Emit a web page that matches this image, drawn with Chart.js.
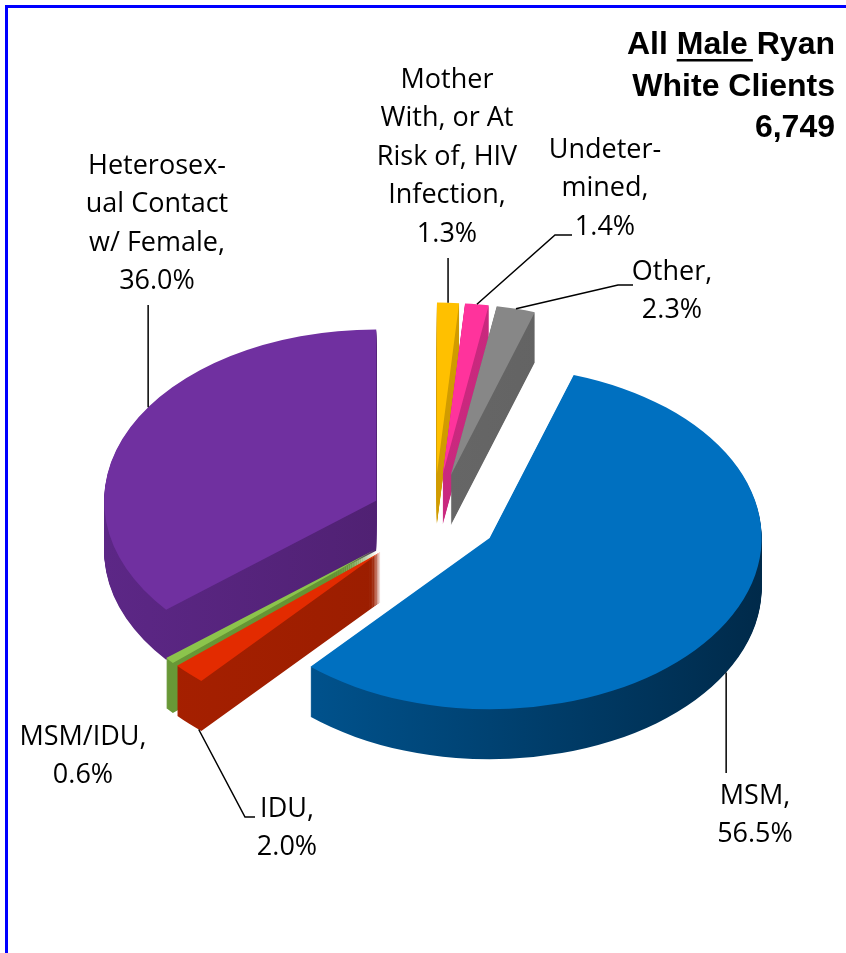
<!DOCTYPE html>
<html>
<head>
<meta charset="utf-8">
<script src="https://cdn.jsdelivr.net/npm/chart.js@4.4.1/dist/chart.umd.min.js"></script>
<style>
  html, body { margin: 0; padding: 0; background: #fff; }
  #wrap { position: relative; width: 846px; height: 953px; overflow: hidden; }
  #frame { position: absolute; left: 5px; top: 5px; width: 900px; height: 1000px;
           border-left: 3px solid #0000ff; border-top: 3px solid #0000ff; }
  canvas { position: absolute; left: 0; top: 0; }
</style>
</head>
<body>
<div id="wrap">
  <div id="frame"></div>
  <canvas id="pie" width="846" height="953"></canvas>
</div>
<script>
// data, in Excel order (clockwise from the top)
const categories = ["MSM", "IDU", "MSM/IDU", "Heterosexual Contact w/ Female",
  "Mother With, or At Risk of, HIV Infection", "Undetermined", "Other"];
const shares = [56.5, 2.0, 0.6, 36.0, 1.3, 1.4, 2.3];
const labelNames = [["MSM,"], ["IDU,"], ["MSM/IDU,"], ["Heterosex-", "ual Contact", "w/ Female,"],
  ["Mother", "With, or At", "Risk of, HIV", "Infection,"], ["Undeter-", "mined,"], ["Other,"]];
const totalClients = 6749;

// look
const topColors = ["#0070c0", "#e32b00", "#8cc44c", "#7030a0", "#ffc000", "#ff339c", "#878787"];
const wallLight = ["#005a9a", "#a82000", "#6a9a38", "#5c2786", "#d9a300", "#d42b85", "#6e6e6e"];
const wallDark  = ["#002a4a", "#8e1b00", "#5a8a2c", "#441b60", "#c99400", "#c02678", "#5e5e5e"];
const explode = [64, 76, 76, 64, 70, 70, 70];
const SQUASH = 0.63;
const DEPTH = 50;

// label layout: centre x, centre y of first line
const labelPos = [[755, 796], [287, 809], [83, 737], [157, 166], [447, 80], [605, 150], [672, 272]];
const LINE_H = 38.5;
// leaders: frac along the slice, drop = share of wall depth, then either a vertical start y or an elbow
const leaders = [
  { frac: 0.5, drop: 1, vertical: 773 },
  { frac: 0.1, drop: 1, path: [[255, 817], [245, 817]] },
  null,
  { frac: 0.56, drop: 0, vertical: 305 },
  { frac: 0.5, drop: 0, vertical: 258 },
  { frac: 0.5, drop: 0, path: [[572, 235], [555, 235]] },
  { frac: 0.5, drop: 0, path: [[633, 285], [618, 285]] }
];

function midAngle(arc) {
  return (arc.startAngle + arc.endAngle) / 2;
}

function shift(arc, i) {
  const m = midAngle(arc);
  return [Math.cos(m) * explode[i], Math.sin(m) * explode[i]];
}

// point on the rim of an exploded slice, in page pixels
function rimPoint(arc, i, frac) {
  const [dx, dy] = shift(arc, i);
  const a = arc.startAngle + (arc.endAngle - arc.startAngle) * frac;
  const x = arc.x + dx + Math.cos(a) * arc.outerRadius;
  const y = arc.y + (dy + Math.sin(a) * arc.outerRadius) * SQUASH;
  return [x, y];
}

const pie3d = {
  id: "pie3d",
  beforeDatasetsDraw(chart) {
    const ctx = chart.ctx;
    const arcs = chart.getDatasetMeta(0).data;
    const cy = arcs[0].y;
    const order = arcs.map((a, i) => i)
      .sort((p, q) => Math.sin(midAngle(arcs[p])) - Math.sin(midAngle(arcs[q])));

    ctx.save();
    ctx.translate(0, cy);
    ctx.scale(1, SQUASH);
    ctx.translate(0, -cy);
    order.forEach((i) => {
      const arc = arcs[i];
      const [dx, dy] = shift(arc, i);
      const grad = ctx.createLinearGradient(arc.x - arc.outerRadius, 0, arc.x + arc.outerRadius, 0);
      grad.addColorStop(0, wallLight[i]);
      grad.addColorStop(1, wallDark[i]);
      const wall = Object.create(arc);
      wall.options = Object.assign({}, arc.options, { backgroundColor: grad, borderWidth: 0 });
      for (let d = DEPTH; d > 0; d--) {
        ctx.save();
        ctx.translate(dx, dy + d / SQUASH);
        wall.draw(ctx);
        ctx.restore();
      }
      ctx.save();
      ctx.translate(dx, dy);
      arc.draw(ctx);
      ctx.restore();
    });
    ctx.restore();
    return false;
  },
  afterDraw(chart) {
    const ctx = chart.ctx;
    const arcs = chart.getDatasetMeta(0).data;
    ctx.save();

    // leader lines
    ctx.strokeStyle = "#000";
    ctx.lineWidth = 1.5;
    leaders.forEach((ld, i) => {
      if (!ld) return;
      const p = rimPoint(arcs[i], i, ld.frac);
      p[1] += ld.drop * DEPTH;
      ctx.beginPath();
      if (ld.vertical !== undefined) {
        ctx.moveTo(p[0], ld.vertical);
      } else {
        ctx.moveTo(ld.path[0][0], ld.path[0][1]);
        ld.path.slice(1).forEach((q) => ctx.lineTo(q[0], q[1]));
      }
      ctx.lineTo(p[0], p[1]);
      ctx.stroke();
    });

    // data labels
    ctx.fillStyle = "#000";
    ctx.font = '27px "Open Sans", sans-serif';
    ctx.textAlign = "center";
    ctx.textBaseline = "middle";
    labelNames.forEach((lines, i) => {
      const all = lines.concat([shares[i].toFixed(1) + "%"]);
      all.forEach((t, k) => ctx.fillText(t, labelPos[i][0], labelPos[i][1] + k * LINE_H));
    });

    // title, right aligned
    const right = 835;
    ctx.font = 'bold 32px "Liberation Sans", Arial, sans-serif';
    ctx.textAlign = "left";
    const a = "All ", b = "Male", c = " Ryan";
    const wa = ctx.measureText(a).width, wb = ctx.measureText(b).width, wc = ctx.measureText(c).width;
    const x = right - (wa + wb + wc);
    ctx.fillText(a, x, 45);
    ctx.fillText(b, x + wa, 45);
    ctx.fillText(c, x + wa + wb, 45);
    ctx.fillRect(x + wa, 59, wb + 5, 2.5);
    ctx.textAlign = "right";
    ctx.fillText("White Clients", right, 87);
    ctx.fillText(totalClients.toLocaleString("en-US"), right, 128);
    ctx.restore();
  }
};

new Chart(document.getElementById("pie"), {
  type: "pie",
  data: {
    labels: categories,
    datasets: [{
      data: shares,
      backgroundColor: topColors,
      borderWidth: 0,
      clip: false
    }]
  },
  options: {
    responsive: false,
    maintainAspectRatio: false,
    devicePixelRatio: 1,
    animation: false,
    events: [],
    rotation: 18,
    radius: 272,
    layout: { padding: { left: 22, right: 0, top: 83, bottom: 0 } },
    plugins: {
      legend: { display: false },
      tooltip: { enabled: false },
      title: { display: false }
    }
  },
  plugins: [pie3d]
});
</script>
</body>
</html>
